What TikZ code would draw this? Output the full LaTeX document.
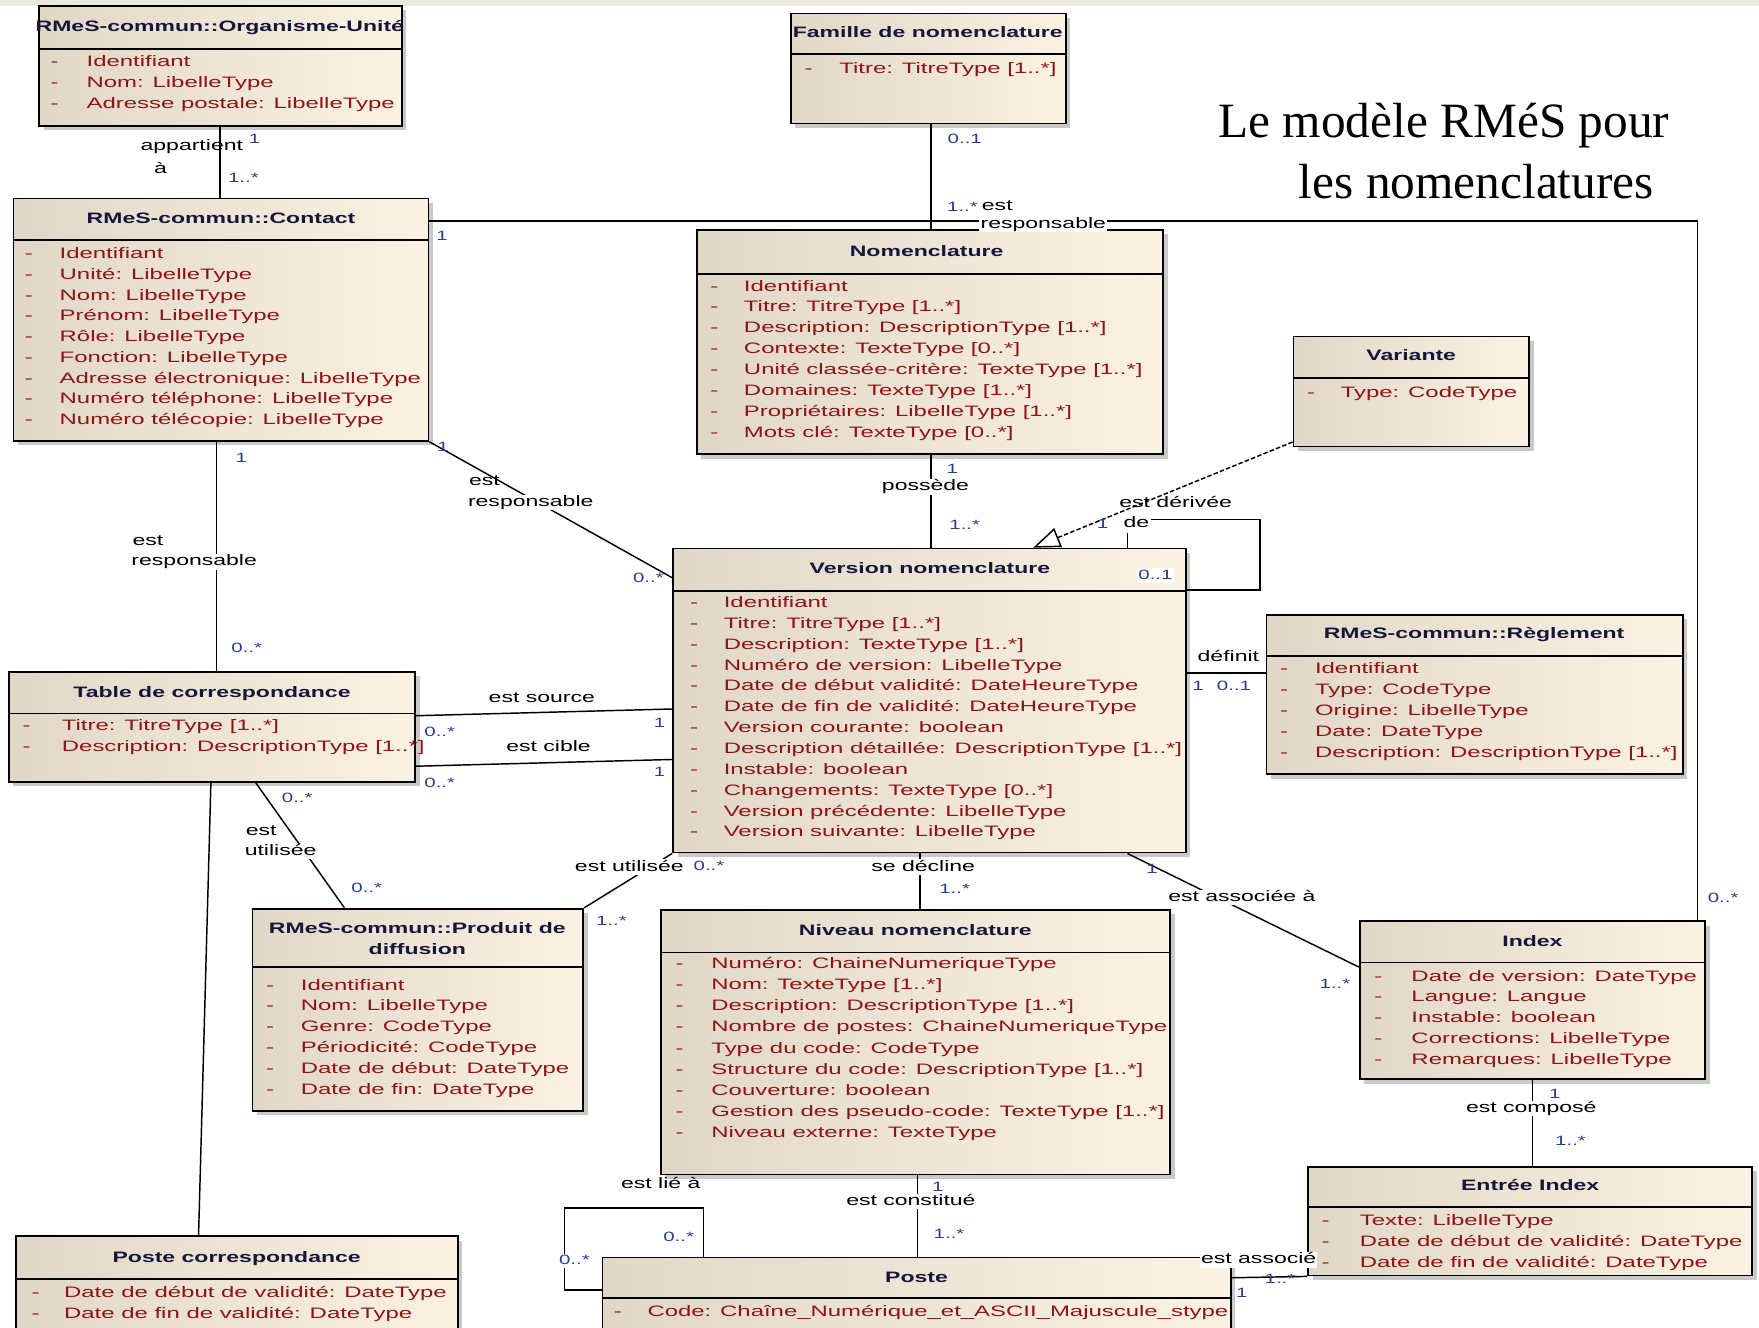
\documentclass[tikz,border=0pt]{standalone}
\usepackage{fontspec}
\setmainfont{Liberation Sans}
\newfontfamily\umlfont[FakeStretch=1.52]{Liberation Sans}
\newfontfamily\attrfont[FakeStretch=1.58]{Liberation Sans}
\newfontfamily\ttlfont{Liberation Serif}
\usetikzlibrary{fit,shadows,arrows.meta}
\definecolor{hdrc}{HTML}{16163A}
\definecolor{attrc}{HTML}{8E1414}
\definecolor{multc}{HTML}{27408B}
\definecolor{boxl}{HTML}{E1D7C7}
\definecolor{boxr}{HTML}{FCF2E4}
\definecolor{band}{HTML}{ECE9DC}
\tikzset{
  cls/.style={draw=black, line width=1.6pt, left color=boxl, right color=boxr, inner sep=0pt,
    drop shadow={shadow xshift=4pt, shadow yshift=-4pt, fill=black!30, opacity=0.7}},
  hline/.style={draw=black, line width=1.6pt},
  hdr/.style={font=\umlfont\bfseries\fontsize{13.5}{15}\selectfont, text=hdrc, inner sep=0pt, text height=9.5pt, text depth=2.5pt},
  attr/.style={font=\attrfont\fontsize{13.5}{15}\selectfont, text=attrc, anchor=west, inner sep=0pt, text height=9.5pt, text depth=2.5pt},
  mult/.style={font=\umlfont\fontsize{12}{13}\selectfont, text=multc, inner sep=1pt, text height=8.5pt, text depth=2pt},
  wmult/.style={mult, fill=white},
  lbl/.style={font=\umlfont\fontsize{13.5}{15}\selectfont, text=black, inner sep=1pt, text height=9.5pt, text depth=2.5pt},
  wlbl/.style={lbl, fill=white},
  conn/.style={draw=black, line width=1.3pt},
}
\newcommand{\attrlist}[6]{%
  \foreach \attrtxt [count=\i from 0] in {#6}{%
    \node[attr] (#1d\i) at (#2,{#4+\i*#5}) {-};
    \node[attr] (#1t\i) at (#3,{#4+\i*#5}) {\attrtxt};
  }%
}
\begin{document}
\begin{tikzpicture}[x=1pt,y=-1pt]
\useasboundingbox (0,0) rectangle (1568,1183);
\clip (0,0) rectangle (1568,1183);
\fill[band] (0,0) rectangle (1568,5);

% ---------- classes ----------
\node[cls, fit={(35,5) (358,112)}] (org) {};
\draw[hline] (org.west |- 0,44) -- (org.east |- 0,44);
\node[hdr] (orgh) at (196,25) {RMeS-commun::Organisme-Unité};
\attrlist{org}{45}{77}{56}{18.6}{{Identifiant},{Nom:  LibelleType},{Adresse postale:  LibelleType}}

\node[cls, fit={(12,177) (382,393)}] (contact) {};
\draw[hline] (contact.west |- 0,214) -- (contact.east |- 0,214);
\node[hdr] (contacth) at (197,196) {RMeS-commun::Contact};
\attrlist{con}{22}{53}{227}{18.5}{{Identifiant},{Unité:  LibelleType},{Nom:  LibelleType},{Prénom:  LibelleType},{Rôle:  LibelleType},{Fonction:  LibelleType},{Adresse électronique:  LibelleType},{Numéro téléphone:  LibelleType},{Numéro télécopie:  LibelleType}}

\node[cls, fit={(705,12) (950,110)}] (famille) {};
\draw[hline] (famille.west |- 0,48) -- (famille.east |- 0,48);
\node[hdr] (familleh) at (827,30) {Famille de nomenclature};
\attrlist{fam}{717}{748}{62}{18.6}{{Titre:  TitreType [1..*]}}

\node[cls, fit={(621,205) (1037,405)}] (nomen) {};
\draw[hline] (nomen.west |- 0,244) -- (nomen.east |- 0,244);
\node[hdr] (nomenh) at (826,225) {Nomenclature};
\attrlist{nom}{633}{663}{256}{18.6}{{Identifiant},{Titre:  TitreType [1..*]},{Description:  DescriptionType [1..*]},{Contexte:  TexteType [0..*]},{Unité classée-critère:  TexteType [1..*]},{Domaines:  TexteType [1..*]},{Propriétaires:  LibelleType [1..*]},{Mots clé:  TexteType [0..*]}}

\node[cls, fit={(1153,300) (1363,398)}] (variante) {};
\draw[hline] (variante.west |- 0,337) -- (variante.east |- 0,337);
\node[hdr] (varianteh) at (1258,318) {Variante};
\attrlist{var}{1165}{1195}{351}{18.6}{{Type:  CodeType}}

\node[cls, fit={(600,489) (1057,760)}] (version) {};
\draw[hline] (version.west |- 0,527) -- (version.east |- 0,527);
\node[hdr] (versionh) at (829,508) {Version nomenclature};
\attrlist{ver}{615}{645}{538}{18.6}{{Identifiant},{Titre:  TitreType [1..*]},{Description:  TexteType [1..*]},{Numéro de version:  LibelleType},{Date de début validité:  DateHeureType},{Date de fin de validité:  DateHeureType},{Version courante:  boolean},{Description détaillée:  DescriptionType [1..*]},{Instable:  boolean},{Changements:  TexteType [0..*]},{Version précédente:  LibelleType},{Version suivante:  LibelleType}}

\node[cls, fit={(1129,548) (1500,690)}] (reglement) {};
\draw[hline] (reglement.west |- 0,585) -- (reglement.east |- 0,585);
\node[hdr] (reglementh) at (1314,566) {RMeS-commun::Règlement};
\attrlist{reg}{1141}{1172}{597}{18.6}{{Identifiant},{Type:  CodeType},{Origine:  LibelleType},{Date:  DateType},{Description:  DescriptionType [1..*]}}

\node[cls, fit={(8,599) (370,697)}] (table) {};
\draw[hline] (table.west |- 0,636) -- (table.east |- 0,636);
\node[hdr] (tableh) at (189,618) {Table de correspondance};
\attrlist{tab}{20}{55}{648}{18.8}{{Titre:  TitreType [1..*]},{Description:  DescriptionType [1..*]}}

\node[cls, fit={(225,810) (520,990)}] (produit) {};
\draw[hline] (produit.west |- 0,862) -- (produit.east |- 0,862);
\node[hdr] (produith1) at (372,829) {RMeS-commun::Produit de};
\node[hdr] (produith2) at (372,847) {diffusion};
\attrlist{pro}{237}{268}{879}{18.6}{{Identifiant},{Nom:  LibelleType},{Genre:  CodeType},{Périodicité:  CodeType},{Date de début:  DateType},{Date de fin:  DateType}}

\node[cls, fit={(589,811) (1043,1047)}] (niveau) {};
\draw[hline] (niveau.west |- 0,849) -- (niveau.east |- 0,849);
\node[hdr] (niveauh) at (816,830) {Niveau nomenclature};
\attrlist{niv}{602}{634}{860}{18.8}{{Numéro:  ChaineNumeriqueType},{Nom:  TexteType [1..*]},{Description:  DescriptionType [1..*]},{Nombre de postes:  ChaineNumeriqueType},{Type du code:  CodeType},{Structure du code:  DescriptionType [1..*]},{Couverture:  boolean},{Gestion des pseudo-code:  TexteType [1..*]},{Niveau externe:  TexteType}}

\node[cls, fit={(1212,821) (1520,962)}] (index) {};
\draw[hline] (index.west |- 0,858) -- (index.east |- 0,858);
\node[hdr] (indexh) at (1366,840) {Index};
\attrlist{ind}{1225}{1258}{871}{18.6}{{Date de version:  DateType},{Langue:  Langue},{Instable:  boolean},{Corrections:  LibelleType},{Remarques:  LibelleType}}

\node[cls, fit={(1166,1040) (1562,1137)}] (entree) {};
\draw[hline] (entree.west |- 0,1076) -- (entree.east |- 0,1076);
\node[hdr] (entreeh) at (1364,1058) {Entrée Index};
\attrlist{ent}{1178}{1212}{1089}{18.6}{{Texte:  LibelleType},{Date de début de validité:  DateType},{Date de fin de validité:  DateType}}

\node[cls, fit={(14,1102) (408,1200)}] (postecorr) {};
\draw[hline] (postecorr.west |- 0,1140) -- (postecorr.east |- 0,1140);
\node[hdr] (postecorrh) at (211,1122) {Poste correspondance};
\attrlist{pco}{28}{57}{1153}{18.6}{{Date de début de validité:  DateType},{Date de fin de validité:  DateType}}

\node[cls, fit={(537,1121) (1097,1200)}] (poste) {};
\draw[hline] (poste.west |- 0,1157) -- (poste.east |- 0,1157);
\node[hdr] (posteh) at (817,1140) {Poste};
\attrlist{pos}{547}{577}{1170}{18.6}{{Code:  Chaîne\_Numérique\_et\_ASCII\_Majuscule\_stype}}

% ---------- title ----------
\node[font=\ttlfont\fontsize{44}{48}\selectfont, inner sep=0pt] (title1) at (1287,112) {Le modèle RMéS pour};
\node[font=\ttlfont\fontsize{44}{48}\selectfont, inner sep=0pt] (title2) at (1316,162) {les nomenclatures};

% ---------- connectors ----------
\draw[conn] (org.south -| 196,0) -- (contact.north -| 196,0);
\draw[conn] (contact.east |- 0,197) -| (index.north -| 1513,0);
\draw[conn] (famille.south -| 830,0) -- (nomen.north -| 830,0);
\draw[conn] (contact.south -| 193,0) -- (table.north -| 193,0);
\draw[conn] (contact.south east) -- (version.west |- 0,515);
\draw[conn] (nomen.south -| 830,0) -- (version.north -| 830,0);
\draw[conn, dash pattern=on 4pt off 2pt, -{Triangle[open, fill=white, length=24pt, width=18pt]}] (variante.west |- 0,394) -- (version.north -| 921,0);
\draw[conn] (version.north -| 1005,0) |- (1123,463) |- (version.east |- 0,526);
\draw[conn] (version.east |- 0,600) -- (reglement.west |- 0,600);
\draw[conn] (table.east |- 0,638) -- (version.west |- 0,632);
\draw[conn] (table.east |- 0,683) -- (version.west |- 0,677);
\draw[conn] (table.south -| 188,0) -- (postecorr.north -| 177,0);
\draw[conn] (table.south -| 228,0) -- (produit.north -| 307,0);
\draw[conn] (version.south west) -- (produit.north east);
\draw[conn] (version.south -| 820,0) -- (niveau.north -| 820,0);
\draw[conn] (version.south -| 1005,0) -- (index.west |- 0,862);
\draw[conn] (index.south -| 1366,0) -- (entree.north -| 1366,0);
\draw[conn] (niveau.south -| 818,0) -- (poste.north -| 818,0);
\draw[conn] (poste.north -| 627,0) |- (503,1077) |- (poste.west |- 0,1150);
\draw[conn] (poste.east |- 0,1139) -- (entree.south west);

% ---------- labels ----------
\node[lbl] (l1) at (171,131) {appartient};
\node[lbl] (l2) at (143,151) {à};
\node[mult] (m1) at (227,125) {1};
\node[mult] (m2) at (217,159) {1..*};

\node[mult] (m3) at (394,211) {1};
\node[mult] (m4) at (858,185) {1..*};
\node[lbl] (l3) at (889,184) {est};
\node[wlbl] (l4) at (930,200) {responsable};
\node[mult] (m5) at (1536,801) {0..*};
\node[mult] (m6) at (860,125) {0..1};

\node[mult] (m7) at (215,409) {1};
\node[lbl, anchor=west] (l5) at (117,483) {est};
\node[wlbl, anchor=west] (l6) at (116,501) {responsable};
\node[mult] (m8) at (220,578) {0..*};

\node[mult] (m9) at (395,399) {1};
\node[lbl, anchor=west] (l7) at (417,429) {est};
\node[wlbl, anchor=west] (l8) at (416,448) {responsable};
\node[mult] (m10) at (578,516) {0..*};

\node[mult] (m11) at (849,419) {1};
\node[wlbl] (l9) at (825,434) {possède};
\node[mult] (m12) at (860,469) {1..*};

\node[lbl] (l10) at (1048,449) {est dérivée};
\node[mult] (m13) at (983,468) {1};
\node[wlbl, inner sep=2pt] (l11) at (1013,467) {de};
\node[wmult] (m14) at (1030,513) {0..1};

\node[wlbl] (l12) at (1095,586) {définit};
\node[wmult] (m15) at (1068,612) {1};
\node[wmult] (m16) at (1100,612) {0..1};

\node[lbl] (l13) at (483,623) {est source};
\node[mult] (m17) at (392,653) {0..*};
\node[mult] (m18) at (588,645) {1};
\node[lbl] (l14) at (489,666) {est cible};
\node[mult] (m19) at (392,699) {0..*};
\node[mult] (m20) at (588,689) {1};

\node[mult] (m21) at (265,712) {0..*};
\node[lbl, anchor=west] (l15) at (218,741) {est};
\node[wlbl, anchor=west] (l16) at (217,759) {utilisée};
\node[mult] (m22) at (327,792) {0..*};

\node[wlbl] (l17) at (561,773) {est utilisée};
\node[mult] (m23) at (632,773) {0..*};
\node[mult] (m24) at (545,822) {1..*};

\node[wlbl] (l18) at (823,773) {se décline};
\node[mult] (m25) at (851,793) {1..*};

\node[mult] (m26) at (1027,775) {1};
\node[wlbl] (l19) at (1107,800) {est associée à};
\node[mult] (m27) at (1190,878) {1..*};

\node[mult] (m28) at (1386,976) {1};
\node[wlbl] (l20) at (1365,988) {est composé};
\node[mult] (m29) at (1400,1018) {1..*};

\node[mult] (m30) at (836,1059) {1};
\node[wlbl] (l21) at (812,1071) {est constitué};
\node[mult] (m31) at (846,1101) {1..*};

\node[lbl] (l22) at (589,1056) {est lié à};
\node[wmult] (m32) at (605,1103) {0..*};
\node[wmult] (m33) at (512,1124) {0..*};

\node[wlbl] (l23) at (1122,1123) {est associé};
\node[mult] (m34) at (1107,1153) {1};
\node[mult] (m35) at (1141,1141) {1..*};
\end{tikzpicture}
\end{document}
